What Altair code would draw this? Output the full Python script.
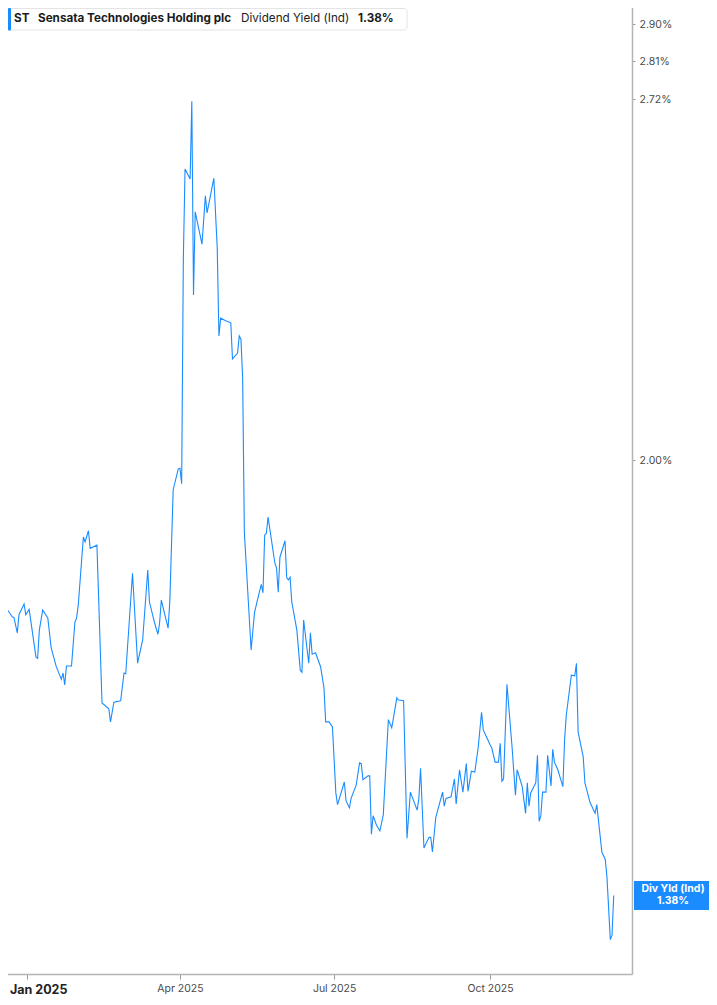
import altair as alt
import pandas as pd

# ---- data ----
dates = [
    "2024-12-16", "2024-12-19", "2024-12-20", "2024-12-23", "2024-12-24", "2024-12-26", "2024-12-27",
    "2024-12-30", "2024-12-31", "2025-01-02", "2025-01-06", "2025-01-07", "2025-01-08", "2025-01-10",
    "2025-01-13", "2025-01-15", "2025-01-18", "2025-01-21", "2025-01-22", "2025-01-23", "2025-01-24",
    "2025-01-27", "2025-01-29", "2025-01-30", "2025-01-31", "2025-02-03", "2025-02-04", "2025-02-06",
    "2025-02-07", "2025-02-11", "2025-02-14", "2025-02-18", "2025-02-19", "2025-02-21", "2025-02-25",
    "2025-02-27", "2025-02-28", "2025-03-04", "2025-03-07", "2025-03-10", "2025-03-13", "2025-03-14",
    "2025-03-17", "2025-03-19", "2025-03-20", "2025-03-21", "2025-03-25", "2025-03-26", "2025-03-28",
    "2025-03-31", "2025-04-01", "2025-04-02", "2025-04-03", "2025-04-04", "2025-04-07", "2025-04-08",
    "2025-04-09", "2025-04-10", "2025-04-14", "2025-04-16", "2025-04-17", "2025-04-21", "2025-04-23",
    "2025-04-24", "2025-04-25", "2025-04-28", "2025-05-01", "2025-05-02", "2025-05-05", "2025-05-06",
    "2025-05-07", "2025-05-08", "2025-05-09", "2025-05-13", "2025-05-15", "2025-05-17", "2025-05-19",
    "2025-05-20", "2025-05-21", "2025-05-22", "2025-05-23", "2025-05-27", "2025-05-28", "2025-05-29",
    "2025-05-30", "2025-06-02", "2025-06-03", "2025-06-04", "2025-06-05", "2025-06-06", "2025-06-09",
    "2025-06-11", "2025-06-12", "2025-06-13", "2025-06-16", "2025-06-17", "2025-06-18", "2025-06-20",
    "2025-06-23", "2025-06-25", "2025-06-26", "2025-06-28", "2025-06-30", "2025-07-02", "2025-07-03",
    "2025-07-07", "2025-07-08", "2025-07-10", "2025-07-11", "2025-07-14", "2025-07-16", "2025-07-17",
    "2025-07-18", "2025-07-21", "2025-07-22", "2025-07-23", "2025-07-24", "2025-07-26", "2025-07-28",
    "2025-07-30", "2025-08-02", "2025-08-04", "2025-08-07", "2025-08-08", "2025-08-11", "2025-08-13",
    "2025-08-15", "2025-08-19", "2025-08-20", "2025-08-21", "2025-08-23", "2025-08-26", "2025-08-27",
    "2025-08-28", "2025-08-30", "2025-09-03", "2025-09-04", "2025-09-05", "2025-09-08", "2025-09-10",
    "2025-09-11", "2025-09-13", "2025-09-15", "2025-09-17", "2025-09-18", "2025-09-20", "2025-09-22",
    "2025-09-24", "2025-09-26", "2025-09-27", "2025-09-29", "2025-10-01", "2025-10-02", "2025-10-04",
    "2025-10-06", "2025-10-07", "2025-10-08", "2025-10-09", "2025-10-11", "2025-10-14", "2025-10-16",
    "2025-10-17", "2025-10-20", "2025-10-22", "2025-10-23", "2025-10-24", "2025-10-25", "2025-10-28",
    "2025-10-29", "2025-10-30", "2025-10-31", "2025-11-01", "2025-11-03", "2025-11-04", "2025-11-06",
    "2025-11-07", "2025-11-08", "2025-11-10", "2025-11-13", "2025-11-14", "2025-11-15", "2025-11-18",
    "2025-11-20", "2025-11-21", "2025-11-22", "2025-11-25", "2025-11-26", "2025-11-29", "2025-12-02",
    "2025-12-03", "2025-12-06", "2025-12-08", "2025-12-09", "2025-12-11", "2025-12-12", "2025-12-13",
]
yields = [
    1.587, 1.760, 1.761, 1.750, 1.749, 1.726, 1.753,
    1.769, 1.753, 1.761, 1.691, 1.689, 1.730, 1.760,
    1.748, 1.704, 1.677, 1.659, 1.668, 1.651, 1.678,
    1.678, 1.742, 1.748, 1.768, 1.873, 1.865, 1.883,
    1.855, 1.860, 1.626, 1.618, 1.600, 1.627, 1.629,
    1.668, 1.667, 1.816, 1.682, 1.716, 1.821, 1.772,
    1.741, 1.724, 1.741, 1.775, 1.733, 1.772, 1.950,
    1.985, 1.986, 1.960, 2.374, 2.563, 2.541, 2.715,
    2.302, 2.471, 2.404, 2.505, 2.469, 2.543, 2.396,
    2.223, 2.257, 2.252, 2.248, 2.180, 2.191, 2.223,
    2.217, 2.145, 1.881, 1.701, 1.756, 1.778, 1.799,
    1.786, 1.876, 1.879, 1.905, 1.832, 1.824, 1.787,
    1.841, 1.867, 1.809, 1.806, 1.810, 1.772, 1.730,
    1.672, 1.669, 1.745, 1.682, 1.726, 1.695, 1.697,
    1.677, 1.647, 1.600, 1.600, 1.593, 1.506, 1.491,
    1.520, 1.496, 1.487, 1.499, 1.516, 1.545, 1.544,
    1.523, 1.528, 1.528, 1.454, 1.477, 1.465, 1.458,
    1.478, 1.603, 1.592, 1.633, 1.630, 1.629, 1.449,
    1.507, 1.484, 1.499, 1.538, 1.437, 1.450, 1.450,
    1.432, 1.475, 1.507, 1.489, 1.499, 1.501, 1.524,
    1.492, 1.536, 1.507, 1.544, 1.508, 1.534, 1.533,
    1.565, 1.613, 1.589, 1.579, 1.569, 1.565, 1.546,
    1.546, 1.571, 1.521, 1.524, 1.652, 1.566, 1.503,
    1.536, 1.514, 1.480, 1.519, 1.489, 1.506, 1.519,
    1.555, 1.470, 1.477, 1.507, 1.507, 1.555, 1.515,
    1.563, 1.546, 1.536, 1.514, 1.575, 1.609, 1.665,
    1.664, 1.682, 1.586, 1.553, 1.519, 1.494, 1.480,
    1.491, 1.432, 1.423, 1.402, 1.329, 1.334, 1.380,
]
y_ticks = [2.00, 2.72, 2.81, 2.90]
x_ticks = ["2025-01-01", "2025-04-01", "2025-07-01", "2025-10-01"]
ticker = "ST"
company = "Sensata Technologies Holding plc"
metric = "Dividend Yield (Ind)"
short_metric = "Div Yld (Ind)"
last_label = f"{yields[-1]:.2f}%"

BLUE = "#1a8cff"
FONT = "Inter"

df = pd.DataFrame({"date": pd.to_datetime(dates), "v": yields})
last = df.tail(1)
one = pd.DataFrame({"a": [0]})


def dt(s, h=0):
    y, m, d = (int(p) for p in s.split("-"))
    return alt.DateTime(year=y, month=m, date=d, hours=h, utc=True)


x_scale = alt.Scale(type="utc", domain=[dt("2024-12-15", 19), dt("2025-12-23", 19)], nice=False)
y_scale = alt.Scale(type="log", domain=[1.2906, 2.96], nice=False)

IS_JAN = "utcmonth(datum.value) == 0"
x_axis = alt.Axis(
    values=[dt(s) for s in x_ticks],
    format="%b %Y",
    grid=False,
    domainColor="#b4b4b4",
    domainWidth=1.5,
    tickColor="#9a9a9a",
    tickSize=5,
    labelPadding=4,
    labelFont=FONT,
    labelFontSize={"condition": {"test": IS_JAN, "value": 12.5}, "value": 10.5},
    labelFontWeight={"condition": {"test": IS_JAN, "value": "bold"}, "value": "normal"},
    labelColor={"condition": {"test": IS_JAN, "value": "#222222"}, "value": "#4a4a4a"},
    labelAlign={"condition": {"test": IS_JAN, "value": "left"}, "value": "center"},
    labelOffset={"condition": {"test": IS_JAN, "value": -18}, "value": 0},
    title=None,
)
y_axis = alt.Axis(
    orient="right",
    values=y_ticks,
    labelExpr="format(datum.value, '.2f') + '%'",
    grid=False,
    domainColor="#b4b4b4",
    domainWidth=1.5,
    tickColor="#9a9a9a",
    tickSize=3,
    labelPadding=4,
    labelFont=FONT,
    labelFontSize=10.5,
    labelColor="#4a4a4a",
    title=None,
)

line = alt.Chart(df).mark_line(color=BLUE, strokeWidth=1.1, clip=True).encode(
    x=alt.X("date:T", scale=x_scale, axis=x_axis),
    y=alt.Y("v:Q", scale=y_scale, axis=y_axis),
)

# right-hand value tag
tag = alt.Chart(last).mark_rule(color=BLUE, strokeWidth=29, strokeCap="butt", clip=False).encode(
    x=alt.value(634), x2=alt.value(722), y=alt.Y("v:Q", scale=y_scale)
)
tag_t1 = alt.Chart(last).mark_text(
    text=short_metric, color="white", font=FONT, fontSize=10.5, fontWeight="bold", dy=-6, clip=False
).encode(x=alt.value(673), y=alt.Y("v:Q", scale=y_scale))
tag_t2 = alt.Chart(last).mark_text(
    text=last_label, color="white", font=FONT, fontSize=10.5, fontWeight="bold", dy=6, clip=False
).encode(x=alt.value(673), y=alt.Y("v:Q", scale=y_scale))

# header legend box
box = alt.Chart(one).mark_rect(fill="white", stroke="#e4e4e4", strokeWidth=1, cornerRadius=3).encode(
    x=alt.value(8.5), x2=alt.value(407), y=alt.value(8.5), y2=alt.value(30)
)
bar = alt.Chart(one).mark_rect(fill=BLUE, cornerRadius=1).encode(
    x=alt.value(8), x2=alt.value(11), y=alt.value(8), y2=alt.value(30.5)
)


def htext(txt, x, weight):
    return alt.Chart(one).mark_text(
        text=txt, align="left", baseline="middle", font=FONT, fontSize=11.7,
        fontWeight=weight, color="#1c1c1c"
    ).encode(x=alt.value(x), y=alt.value(17.5))


chart = alt.layer(
    line, tag, tag_t1, tag_t2, box, bar,
    htext(ticker, 14, "bold"),
    htext(company, 38, "bold"),
    htext(metric, 241, "normal"),
    htext(last_label, 358, "bold"),
).properties(
    width=632,
    height=974,
    padding={"left": -8, "top": -8, "right": 77, "bottom": 22},
    autosize=alt.AutoSizeParams(type="none"),
).configure_view(strokeWidth=0)

chart.save("out.html", embed_options={"renderer": "svg", "actions": False})
